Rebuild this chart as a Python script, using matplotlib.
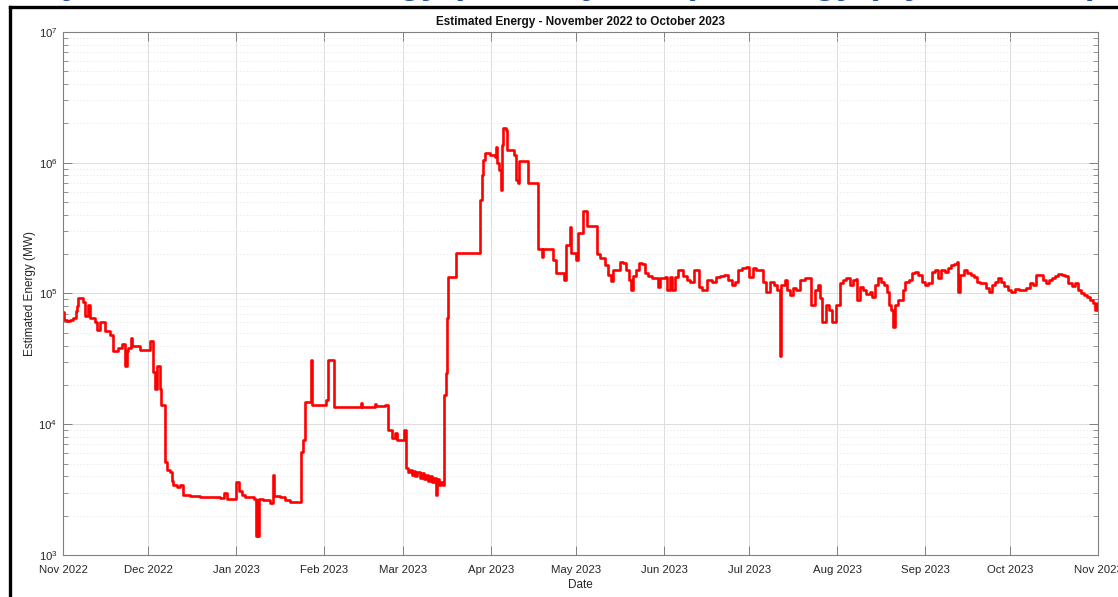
import numpy as np
import matplotlib
matplotlib.use('Agg')
import matplotlib.pyplot as plt
import matplotlib.dates as mdates
from matplotlib.lines import Line2D

plt.rcParams['font.family'] = ['Liberation Sans', 'DejaVu Sans']

# days since 2022-11-01 and estimated energy (MW)
days = [0, 0.35, 1.4, 2.5, 3.5, 4.6, 4.9, 5.3, 6.0, 7.1, 7.8, 8.8, 9.5, 11.3, 12.0, 13.0,
        14.8, 15.5, 16.6, 17.6, 19.4, 20.8, 21.9, 22.5, 22.9, 24.0, 24.3, 27.2, 30.0, 30.7,
        31.7, 32.4, 33.1, 33.8, 34.3, 34.6, 36.0, 36.7, 37.7, 38.3, 38.8, 40.2, 41.3, 42.3,
        44.8, 48.3, 51.8, 55.4, 56.8, 57.8, 59.9, 61.0, 62.1, 63.0, 64.2, 67.3, 68.0, 68.5,
        68.8, 69.0, 70.5, 73.0, 74.0, 74.5, 76.5, 78.3, 80.0, 83.9, 84.6, 85.3, 87.3, 87.8,
        92.7, 93.4, 95.6, 105.1, 105.5, 110.0, 110.5, 113.5, 114.6, 116.0, 117.1, 117.8,
        120.2, 120.9, 121.5, 122.4, 123.0, 123.6, 124.3, 125.0, 125.9, 126.5, 127.3, 128.0,
        128.8, 129.4, 130.1, 130.8, 131.5, 131.9, 132.6, 133.2, 134.0, 134.3, 135.0, 135.4,
        135.7, 138.6, 147.0, 147.7, 148.1, 148.8, 150.6, 152.3, 152.7, 153.2, 153.7, 154.4,
        154.8, 155.1, 156.2, 156.6, 157.6, 159.0, 159.7, 160.4, 160.8, 164.0, 167.5, 168.9,
        169.2, 172.8, 173.8, 176.7, 177.4, 178.8, 179.2, 180.9, 181.6, 183.4, 184.8, 188.3,
        189.3, 191.1, 192.2, 193.2, 193.9, 195.3, 196.4, 197.5, 198.5, 199.6, 200.3, 201.0,
        202.0, 203.1, 204.2, 205.2, 206.3, 207.7, 208.7, 209.8, 210.5, 212.3, 213.0, 214.0,
        214.7, 215.8, 216.8, 218.6, 220.0, 221.1, 222.5, 223.5, 224.2, 225.3, 227.1, 228.8,
        230.2, 231.7, 233.1, 234.5, 235.9, 236.9, 238.0, 239.4, 240.8, 241.9, 243.3, 244.3,
        245.8, 246.8, 247.9, 249.3, 250.7, 251.7, 252.8, 253.2, 254.6, 255.3, 256.3, 257.4,
        258.5, 259.9, 261.6, 263.4, 263.7, 265.1, 266.2, 266.9, 267.6, 269.0, 270.1, 271.1,
        272.6, 274.0, 275.0, 276.1, 277.5, 278.6, 279.6, 280.0, 281.0, 282.1, 283.1, 284.5,
        285.3, 286.3, 287.4, 288.4, 289.5, 290.5, 291.3, 292.0, 292.7, 293.4, 294.4, 295.5,
        296.2, 296.9, 298.3, 299.4, 300.4, 301.5, 302.9, 303.9, 305.0, 306.4, 307.5, 308.5,
        309.6, 311.0, 312.0, 313.1, 314.2, 315.2, 315.6, 316.3, 317.7, 318.8, 320.2, 321.2,
        322.3, 323.3, 324.4, 325.5, 326.5, 327.6, 328.6, 329.7, 330.7, 331.8, 333.2, 334.3,
        335.7, 337.1, 338.5, 339.6, 341.0, 342.0, 343.1, 344.5, 345.5, 346.6, 347.7, 348.7,
        349.8, 350.8, 352.3, 353.3, 354.4, 355.8, 356.8, 357.9, 358.9, 360.0, 361.1, 362.1,
        363.2, 363.9, 364.6, 365.0]

energy = [72e3, 63e3, 62e3, 63e3, 65e3, 73e3, 80e3, 92e3, 92e3, 86e3, 67e3, 82e3, 65e3, 61e3, 53e3, 61e3,
          52e3, 52e3, 48e3, 36e3, 38e3, 41e3, 28e3, 36e3, 38e3, 46e3, 40e3, 37e3, 37e3, 43e3,
          25e3, 18.6e3, 28e3, 28e3, 18.6e3, 14e3, 5.1e3, 4.5e3, 4.3e3, 3.7e3, 3.4e3, 3.3e3, 3.4e3, 2.9e3,
          2.83e3, 2.78e3, 2.78e3, 2.73e3, 3.0e3, 2.68e3, 2.68e3, 3.6e3, 3.1e3, 2.9e3, 2.78e3, 2.68e3, 1.4e3, 2.64e3,
          1.4e3, 2.7e3, 2.64e3, 2.5e3, 4.1e3, 2.83e3, 2.78e3, 2.64e3, 2.54e3, 6.1e3, 7.6e3, 14.8e3, 31e3, 14e3,
          15.3e3, 31e3, 13.6e3, 14.5e3, 13.6e3, 14.3e3, 13.8e3, 14.0e3, 9.0e3, 7.8e3, 8.6e3, 7.6e3,
          9.0e3, 4.6e3, 4.3e3, 4.5e3, 4.1e3, 4.4e3, 4.0e3, 4.3e3, 3.9e3, 4.2e3, 3.8e3, 4.1e3,
          3.7e3, 4.0e3, 3.6e3, 3.9e3, 2.9e3, 3.8e3, 3.4e3, 3.6e3, 3.4e3, 16.7e3, 24.7e3, 65e3,
          134e3, 204e3, 519e3, 800e3, 1.05e6, 1.19e6, 1.15e6, 1.11e6, 1.32e6, 1.0e6, 880e3, 620e3,
          1.37e6, 1.85e6, 1.78e6, 1.25e6, 1.25e6, 1.15e6, 738e3, 700e3, 1.03e6, 700e3, 219e3, 190e3,
          219e3, 180e3, 144e3, 127e3, 235e3, 323e3, 204e3, 180e3, 290e3, 428e3, 328e3, 200e3,
          187e3, 165e3, 138e3, 125e3, 150e3, 150e3, 174e3, 171e3, 151e3, 127e3, 106e3, 136e3,
          151e3, 170e3, 168e3, 144e3, 136e3, 131e3, 131e3, 112e3, 131e3, 134e3, 106e3, 134e3,
          106e3, 134e3, 151e3, 136e3, 127e3, 122e3, 151e3, 151e3, 112e3, 106e3, 127e3, 122e3,
          134e3, 136e3, 138e3, 127e3, 116e3, 122e3, 151e3, 157e3, 160e3, 134e3, 157e3, 151e3,
          151e3, 122e3, 103e3, 122e3, 116e3, 106e3, 33e3, 116e3, 127e3, 106e3, 97e3, 110e3,
          106e3, 127e3, 131e3, 131e3, 82e3, 106e3, 116e3, 92e3, 61e3, 82e3, 75e3, 61e3,
          82e3, 120e3, 127e3, 131e3, 116e3, 127e3, 129e3, 89e3, 112e3, 106e3, 99e3, 103e3,
          94e3, 116e3, 131e3, 122e3, 116e3, 103e3, 82e3, 75e3, 55e3, 82e3, 89e3, 89e3,
          106e3, 122e3, 127e3, 144e3, 146e3, 138e3, 122e3, 116e3, 120e3, 146e3, 151e3, 131e3,
          151e3, 146e3, 157e3, 165e3, 168e3, 174e3, 103e3, 138e3, 151e3, 144e3, 138e3, 134e3,
          122e3, 120e3, 120e3, 110e3, 103e3, 116e3, 122e3, 131e3, 122e3, 114e3, 106e3, 103e3,
          108e3, 106e3, 106e3, 110e3, 120e3, 116e3, 138e3, 138e3, 127e3, 120e3, 127e3, 131e3,
          136e3, 141e3, 138e3, 136e3, 120e3, 114e3, 120e3, 106e3, 101e3, 97e3, 94e3, 89e3,
          85e3, 75e3, 85e3, 85e3]

start = np.datetime64('2022-11-01T00:00')
dates = start + (np.array(days) * 24 * 60).astype('timedelta64[m]')

fig = plt.figure(figsize=(11.18, 5.97), dpi=100)
ax = fig.add_axes([0.0564, 0.0704, 0.9257, 0.876])

ax.plot(dates, energy, color='#ff0000', linewidth=1.9, drawstyle='steps-post')

ax.set_yscale('log')
ax.set_ylim(1e3, 1e7)
ax.set_xlim(np.datetime64('2022-11-01'), np.datetime64('2023-11-01'))
ax.xaxis.set_major_locator(mdates.MonthLocator())
ax.xaxis.set_major_formatter(mdates.DateFormatter('%b %Y'))

axc = '#808080'
txtc = '#262626'
for s in ax.spines.values():
    s.set_color(axc)
    s.set_linewidth(0.8)
ax.tick_params(which='both', direction='in', top=True, right=True, colors=axc,
               labelcolor=txtc, labelsize=8.2)
ax.tick_params(which='major', length=6.5, width=0.7)
ax.tick_params(which='minor', length=3.5, width=0.6)
ax.tick_params(axis='x', which='minor', bottom=False, top=False)
ax.tick_params(axis='x', pad=7)
ax.tick_params(axis='y', pad=4)

ax.grid(True, which='major', color='#dcdcdc', linewidth=0.7)
ax.grid(True, which='minor', axis='y', color='#e4e4e4', linestyle=(0, (1.5, 2.5)), linewidth=0.6)
ax.set_axisbelow(True)

ax.set_title('Estimated Energy - November 2022 to October 2023', fontsize=8.5,
             fontweight='bold', color='#111111', pad=5)
ax.set_xlabel('Date', fontsize=8.5, color=txtc, labelpad=3)
ax.set_ylabel('Estimated Energy (MW)', fontsize=8.5, color=txtc, labelpad=2)

# slide frame and clipped slide heading
fig.add_artist(Line2D([0.009, 1.0], [0.988, 0.988], transform=fig.transFigure,
                      color='black', linewidth=2.4))
fig.add_artist(Line2D([0.009, 0.009], [0.0, 0.988], transform=fig.transFigure,
                      color='black', linewidth=2.4))
fig.text(0.5, 1.011, 'Summary of Estimated Energy (Monthly Data) - Energy (Dynamic Capacity)',
         ha='center', va='baseline', fontsize=26, fontweight='bold', color='#1f4e9a')

fig.savefig('out.png', dpi=100)
